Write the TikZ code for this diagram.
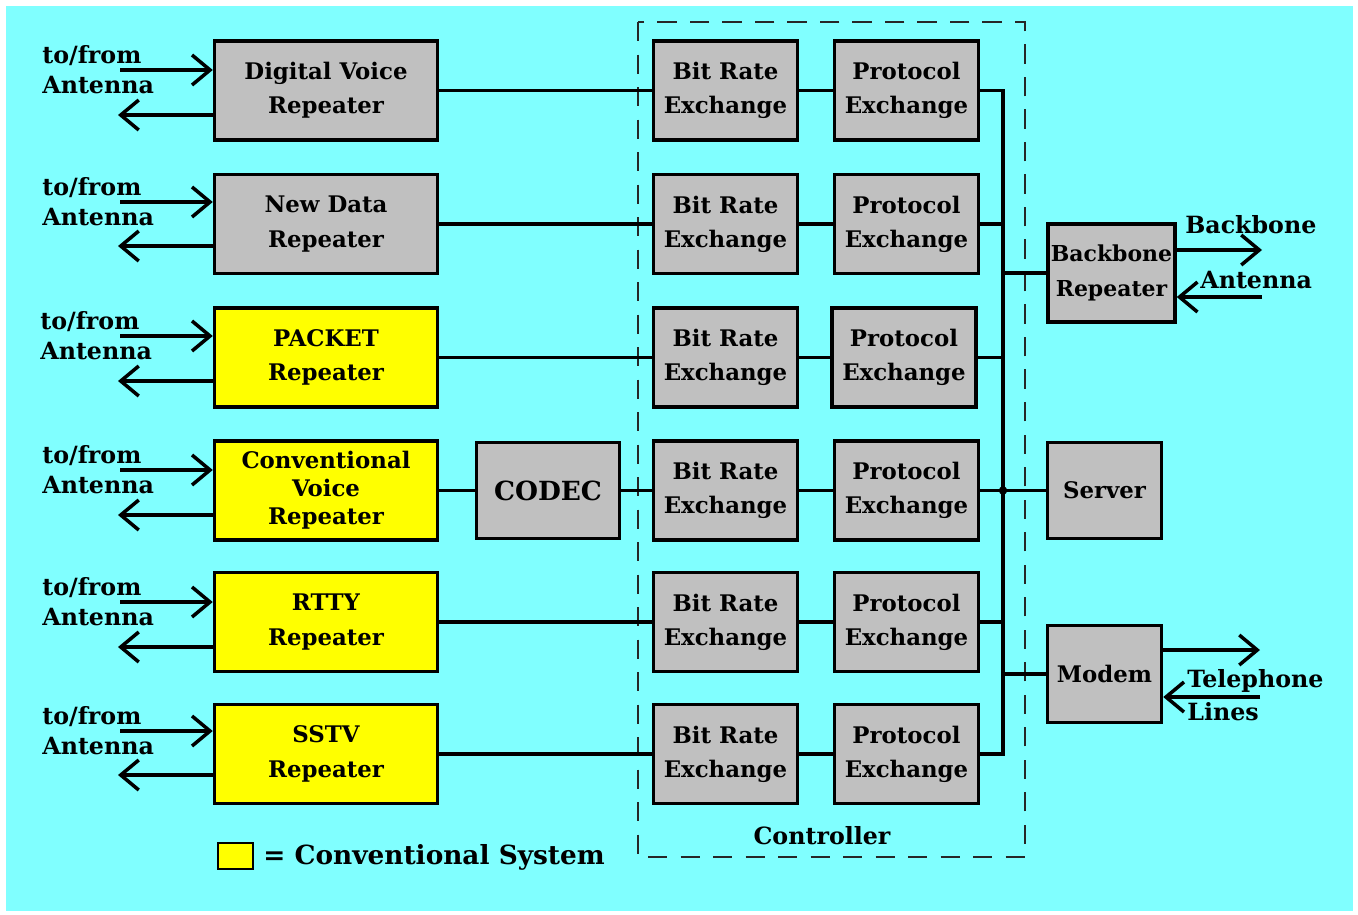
\documentclass[tikz,border=0pt]{standalone}
\usepackage{fontspec}
\setmainfont{DejaVu Serif}
\usetikzlibrary{arrows.meta}

\definecolor{sky}{RGB}{128,255,255}
\definecolor{boxgray}{RGB}{192,192,192}
\definecolor{convyellow}{RGB}{255,255,0}

\tikzset{
  blk/.style={draw=black, line width=2pt, fill=boxgray, align=center, inner sep=1pt,
    font=\fontsize{13}{19.5}\selectfont\bfseries},
  rep/.style={blk, minimum width=4.46cm, minimum height=1.98cm},
  xch/.style={blk, minimum width=2.88cm, minimum height=1.98cm},
  side/.style={blk, minimum width=2.28cm, minimum height=1.94cm},
  conv/.style={fill=convyellow},
  wire/.style={line width=2pt},
  arr/.style={line width=2pt, -{Straight Barb[length=0.36cm, width=0.6cm]}},
  lbl/.style={font=\fontsize{13.5}{17}\selectfont\bfseries, align=left, inner sep=0pt},
  ctrlbox/.style={draw=black!85, line width=1.2pt, dash pattern=on 11pt off 7.5pt}
}

\begin{document}
\begin{tikzpicture}[x=0.02cm, y=-0.02cm]
\useasboundingbox (0,0) rectangle (1358,914);
\fill[white] (0,0) rectangle (1358,914);
\fill[sky] (6,6) rectangle (1353,911);

% controller frame
\draw[ctrlbox] (638,22) rectangle (1025,857);
\node[lbl] (ctl) at (822,836) {Controller};

% repeaters
\node[rep] (dvr) at (326,90.5) {Digital Voice\\Repeater};
\node[rep] (ndr) at (326,224) {New Data\\Repeater};
\node[rep, conv] (pkt) at (326,357.5) {PACKET\\Repeater};
\node[rep, conv, font=\fontsize{13}{16}\selectfont\bfseries] (cvr) at (326,490.5) {Conventional\\Voice\\Repeater};
\node[rep, conv] (rtty) at (326,622) {RTTY\\Repeater};
\node[rep, conv] (sstv) at (326,754) {SSTV\\Repeater};

\node[blk, minimum width=2.86cm, minimum height=1.92cm, font=\fontsize{15}{17}\selectfont\bfseries] (codec) at (548,490.5) {CODEC};

% bit rate / protocol exchange
\node[xch] (bre1) at (725.5,90.5) {Bit Rate\\Exchange};
\node[xch] (bre2) at (725.5,224) {Bit Rate\\Exchange};
\node[xch] (bre3) at (725.5,357.5) {Bit Rate\\Exchange};
\node[xch] (bre4) at (725.5,490.5) {Bit Rate\\Exchange};
\node[xch] (bre5) at (725.5,622) {Bit Rate\\Exchange};
\node[xch] (bre6) at (725.5,754) {Bit Rate\\Exchange};

\node[xch] (pe1) at (906.5,90.5) {Protocol\\Exchange};
\node[xch] (pe2) at (906.5,224) {Protocol\\Exchange};
\node[xch] (pe3) at (904,357.5) {Protocol\\Exchange};
\node[xch] (pe4) at (906.5,490.5) {Protocol\\Exchange};
\node[xch] (pe5) at (906.5,622) {Protocol\\Exchange};
\node[xch] (pe6) at (906.5,754) {Protocol\\Exchange};

% backbone, server, modem
\node[side, minimum width=2.54cm, minimum height=1.96cm, font=\fontsize{12.5}{19.5}\selectfont\bfseries] (bbr) at (1111.5,273) {Backbone\\Repeater};
\node[side, minimum height=1.92cm] (srv) at (1104.5,490.5) {Server};
\node[side] (mdm) at (1104.5,674) {Modem};

% row links
\draw[wire] (dvr) -- (bre1);
\draw[wire] (ndr) -- (bre2);
\draw[wire] (pkt) -- (bre3);
\draw[wire] (cvr) -- (codec) -- (bre4);
\draw[wire] (rtty) -- (bre5);
\draw[wire] (sstv) -- (bre6);
\draw[wire] (bre1) -- (pe1);
\draw[wire] (bre2) -- (pe2);
\draw[wire] (bre3) -- (pe3);
\draw[wire] (bre4) -- (pe4);
\draw[wire] (bre5) -- (pe5);
\draw[wire] (bre6) -- (pe6);

% bus
\coordinate (bustop) at (1003,90.5);
\coordinate (busbot) at (1003,754);
\draw[wire] (pe1.east) -- (bustop) -- (busbot) -- (pe6.east);
\draw[wire] (pe2.east) -- (pe2.east -| bustop);
\draw[wire] (pe3.east) -- (pe3.east -| bustop);
\draw[wire] (pe4.east) -- (pe4.east -| bustop);
\draw[wire] (pe5.east) -- (pe5.east -| bustop);
\draw[wire] (bbr.west) -- (bbr.west -| bustop);
\draw[wire] (srv.west) -- (srv.west -| bustop);
\draw[wire] (mdm.west) -- (mdm.west -| bustop);
\fill (srv.west -| bustop) circle[radius=2.4pt];

% antenna links
\coordinate (in1) at (120,70);  \coordinate (out1) at (118,115);
\coordinate (in2) at (120,202); \coordinate (out2) at (118,246);
\coordinate (in3) at (120,336); \coordinate (out3) at (118,381);
\coordinate (in4) at (120,470); \coordinate (out4) at (118,515);
\coordinate (in5) at (120,602); \coordinate (out5) at (118,647);
\coordinate (in6) at (120,731); \coordinate (out6) at (118,775);

\draw[arr] (in1) -- (in1 -| dvr.west);
\draw[arr] (out1 -| dvr.west) -- (out1);
\draw[arr] (in2) -- (in2 -| ndr.west);
\draw[arr] (out2 -| ndr.west) -- (out2);
\draw[arr] (in3) -- (in3 -| pkt.west);
\draw[arr] (out3 -| pkt.west) -- (out3);
\draw[arr] (in4) -- (in4 -| cvr.west);
\draw[arr] (out4 -| cvr.west) -- (out4);
\draw[arr] (in5) -- (in5 -| rtty.west);
\draw[arr] (out5 -| rtty.west) -- (out5);
\draw[arr] (in6) -- (in6 -| sstv.west);
\draw[arr] (out6 -| sstv.west) -- (out6);

\node[lbl, anchor=west] (ta1) at (42,70) {to/from\\Antenna};
\node[lbl, anchor=west] (ta2) at (42,202) {to/from\\Antenna};
\node[lbl, anchor=west] (ta3) at (40,336) {to/from\\Antenna};
\node[lbl, anchor=west] (ta4) at (42,470) {to/from\\Antenna};
\node[lbl, anchor=west] (ta5) at (42,602) {to/from\\Antenna};
\node[lbl, anchor=west] (ta6) at (42,731) {to/from\\Antenna};

% backbone antenna
\coordinate (bbtx) at (1262,250);
\coordinate (bbrx) at (1262,297);
\draw[arr] (bbtx -| bbr.east) -- (bbtx);
\draw[arr] (bbrx) -- (bbrx -| bbr.east);
\node[lbl, anchor=base west] (bbl) at (1185,233) {Backbone};
\node[lbl, anchor=base west] (bal) at (1200,288) {Antenna};

% telephone lines
\coordinate (mtx) at (1260,650);
\coordinate (mrx) at (1260,697);
\draw[arr] (mtx -| mdm.east) -- (mtx);
\draw[arr] (mrx) -- (mrx -| mdm.east);
\node[lbl, anchor=base west] (tel) at (1187,687) {Telephone};
\node[lbl, anchor=base west] (lin) at (1187,720) {Lines};

% legend
\node[draw, line width=1.2pt, fill=convyellow, minimum width=0.7cm, minimum height=0.52cm, inner sep=0pt] (key) at (235.5,856) {};
\node[lbl, anchor=base west, font=\fontsize{15}{17}\selectfont\bfseries] (keytxt) at (263,864) {= Conventional System};
\end{tikzpicture}
\end{document}
